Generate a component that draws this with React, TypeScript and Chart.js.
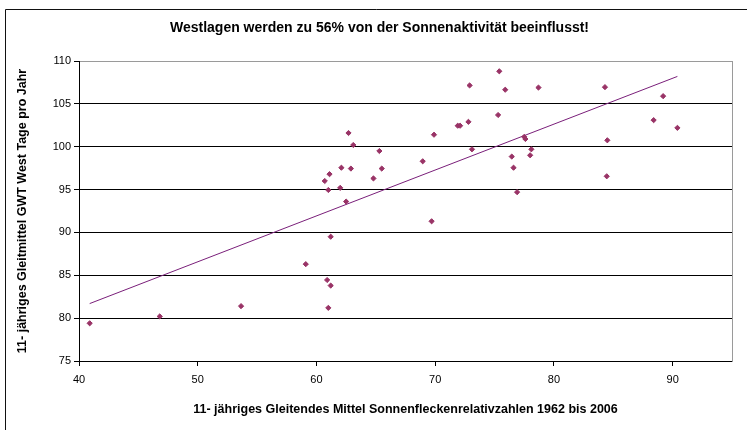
import React, { useEffect, useRef } from "react";
import { Chart, registerables } from "chart.js";

Chart.register(...registerables);

const titleText = "Westlagen werden zu 56% von der Sonnenaktivität beeinflusst!";
const xTitle = "11- jähriges Gleitendes Mittel Sonnenfleckenrelativzahlen 1962 bis 2006";
const yTitle = "11- jähriges Gleitmittel GWT West Tage pro Jahr";

// Sunspot 11-yr moving average (x) vs. west weather days per year (y)
const sunspots = [
  40.9, 46.8, 53.65, 59.1, 60.9, 61.2, 61.0, 61.2, 60.7, 61.0,
  61.1, 62.0, 62.1, 62.5, 62.7, 63.1, 62.9, 65.3, 65.5, 64.8,
  68.95, 69.7, 69.9, 72.9, 71.9, 72.1, 72.8, 73.1, 75.4, 75.9,
  75.3, 77.5, 77.6, 78.1, 78.0, 76.45, 76.6, 76.9, 78.7, 84.3,
  84.5, 84.45, 89.2, 88.4, 90.4,
];
const westDays = [
  79.4, 80.2, 81.4, 86.3, 84.45, 83.8, 81.2, 89.5, 96.0, 94.95,
  96.8, 95.2, 97.55, 93.6, 101.6, 100.2, 97.45, 99.5, 97.45, 96.3,
  98.3, 91.3, 101.4, 107.15, 102.45, 102.45, 102.9, 99.7, 108.8, 106.65,
  103.7, 101.15, 100.9, 99.7, 99.0, 98.85, 97.55, 94.7, 106.9, 106.95,
  100.75, 96.55, 105.9, 103.1, 102.2,
];

// Linear trend line endpoints
const trendX = [40.9, 90.4];
const trendY = [81.7, 108.2];

const xTicksMin = 40;
const xTicksMax = 95;
const xStep = 10;
const yTicksMin = 75;
const yTicksMax = 110;
const yStep = 5;

const FONT = "'Liberation Sans', Arial, sans-serif";

export default function App() {
  const ref = useRef<HTMLCanvasElement | null>(null);

  useEffect(() => {
    if (!ref.current) return;
    const framePlugin = {
      id: "frame",
      beforeDraw(chart: any) {
        const ctx = chart.ctx;
        ctx.save();
        ctx.fillStyle = "#ffffff";
        ctx.fillRect(0, 0, chart.width, chart.height);
        ctx.strokeStyle = "#111111";
        ctx.lineWidth = 1;
        ctx.beginPath();
        ctx.moveTo(5.5, chart.height);
        ctx.lineTo(5.5, 9.5);
        ctx.lineTo(chart.width, 9.5);
        ctx.stroke();
        ctx.restore();
      },
    };

    const chart = new Chart(ref.current, {
      type: "scatter",
      data: {
        datasets: [
          {
            label: "Westlagen",
            data: sunspots.map((x, i) => ({ x, y: westDays[i] })),
            pointStyle: "rectRot",
            pointRadius: 2.6,
            pointBorderWidth: 1,
            backgroundColor: "#993366",
            borderColor: "#993366",
            order: 1,
          },
          {
            label: "Trend",
            type: "line",
            data: trendX.map((x, i) => ({ x, y: trendY[i] })),
            showLine: true,
            pointRadius: 0,
            borderColor: "#7a1f7a",
            borderWidth: 1,
            fill: false,
            order: 2,
          } as any,
        ],
      },
      plugins: [framePlugin],
      options: {
        animation: false,
        responsive: false,
        layout: { padding: { left: 12, right: 0, top: 0, bottom: 0 } },
        plugins: {
          legend: { display: false },
          tooltip: { enabled: false },
          title: {
            display: true,
            text: titleText,
            color: "#000",
            font: { family: FONT, size: 14, weight: "bold" },
            padding: { top: 19.6, bottom: 24.6 },
          },
        },
        scales: {
          x: {
            type: "linear",
            min: xTicksMin,
            max: xTicksMax,
            afterBuildTicks: (scale: any) => {
              scale.ticks = scale.ticks.filter((t: any) => t.value <= 90);
            },
            afterFit: (scale: any) => {
              scale.height = 69;
            },
            ticks: {
              stepSize: xStep,
              color: "#000",
              padding: 7,
              font: { family: FONT, size: 11 },
            },
            grid: {
              drawOnChartArea: false,
              drawTicks: true,
              tickLength: 5,
              color: "#000",
            },
            border: { display: true, color: "#000", width: 1 },
            title: {
              display: true,
              text: xTitle,
              color: "#000",
              padding: 12.5,
              font: { family: FONT, size: 12.5, weight: "bold" },
            },
          },
          y: {
            type: "linear",
            position: "left",
            min: yTicksMin,
            max: yTicksMax,
            afterFit: (scale: any) => {
              scale.width = 67;
            },
            ticks: {
              stepSize: yStep,
              color: "#000",
              padding: 3,
              font: { family: FONT, size: 11 },
            },
            grid: {
              color: (c: any) => (c.tick && c.tick.value === yTicksMax ? "#9a9a9a" : "#000"),
              tickColor: "#000",
              tickLength: 5,
              lineWidth: 1,
            },
            border: { display: true, color: "#000", width: 1 },
            title: {
              display: true,
              text: yTitle,
              color: "#000",
              padding: 3.5,
              font: { family: FONT, size: 12.5, weight: "bold" },
            },
          },
          y2: {
            type: "linear",
            position: "right",
            min: yTicksMin,
            max: yTicksMax,
            afterFit: (scale: any) => {
              scale.width = 15;
            },
            ticks: { display: false },
            grid: { drawOnChartArea: false, drawTicks: false },
            border: { display: true, color: "#9a9a9a", width: 1 },
          },
        },
      } as any,
    });
    return () => chart.destroy();
  }, []);

  return (
    <div style={{ position: "fixed", left: 0, top: 0, width: 747, height: 430, background: "#fff" }}>
      <canvas ref={ref} width={747} height={430} style={{ display: "block" }} />
    </div>
  );
}
